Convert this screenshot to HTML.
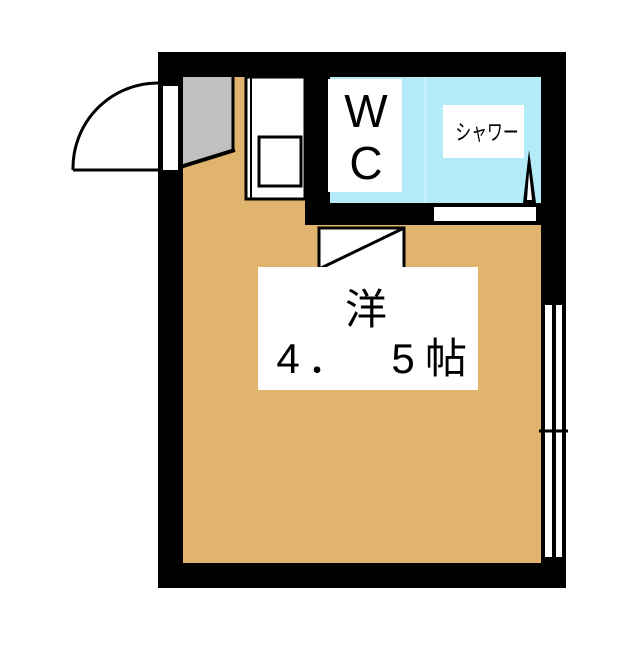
<!DOCTYPE html>
<html><head><meta charset="utf-8"><style>
body{margin:0;width:640px;height:640px;background:#fff;overflow:hidden}
</style></head><body>
<svg width="640" height="640" viewBox="0 0 640 640" xmlns="http://www.w3.org/2000/svg">
<rect x="158" y="52" width="408" height="536" fill="#000"/>
<rect x="183" y="77" width="358" height="486" fill="#e0b46e"/>
<rect x="305" y="77" width="236" height="148" fill="#000"/>
<rect x="330" y="77" width="211" height="126" fill="#b3ecf8"/>
<line x1="425" y1="77" x2="425" y2="203" stroke="#c8f2fb" stroke-width="2"/>
<rect x="434" y="207" width="102" height="14" fill="#fff"/>
<rect x="328" y="79" width="74" height="113" fill="#fff"/>
<text x="366" y="127" font-family="Liberation Sans, sans-serif" font-size="46" text-anchor="middle">W</text>
<text x="366" y="179" font-family="Liberation Sans, sans-serif" font-size="46" text-anchor="middle">C</text>
<rect x="443" y="105" width="81" height="53" fill="#fff"/>
<text x="0" y="0" font-family="Liberation Sans, 'Noto Sans CJK JP', sans-serif" font-size="22" text-anchor="middle" transform="translate(487,140) scale(0.72,1)">シャワー</text>
<polygon points="523,203 529,150 536,203" fill="#000"/>
<polygon points="527,200 529,172 532,200" fill="#fff"/>
<rect x="246" y="77" width="59" height="122" fill="#fff" stroke="#000" stroke-width="3"/>
<line x1="251" y1="77" x2="251" y2="199" stroke="#000" stroke-width="2"/>
<rect x="259" y="137" width="42" height="49" fill="#fff" stroke="#000" stroke-width="3"/>
<polygon points="183,77 233,77 233,150 183,168" fill="#c0c0c0"/>
<line x1="233" y1="77" x2="233" y2="151" stroke="#000" stroke-width="3"/>
<line x1="164" y1="172" x2="235" y2="150" stroke="#000" stroke-width="4"/>
<rect x="163" y="86" width="15" height="84" fill="#fff"/>
<path d="M73,170 A85,85 0 0 1 158,83 M73,170 L160,170" fill="none" stroke="#000" stroke-width="3"/>
<rect x="319" y="228" width="85" height="41" fill="#fff" stroke="#000" stroke-width="3"/>
<line x1="319" y1="269" x2="404" y2="228" stroke="#000" stroke-width="3"/>
<rect x="258" y="267" width="220" height="123" fill="#fff"/>
<g font-family="Liberation Sans, 'Noto Sans CJK JP', sans-serif" font-size="42" text-anchor="middle">
<text x="366" y="324">洋</text>
<text x="288" y="373">4</text>
<text x="328" y="373">．</text>
<text x="403" y="373">5</text>
<text x="446" y="373">帖</text>
</g>
<rect x="545" y="305" width="7" height="252" fill="#fff"/>
<rect x="556" y="305" width="6" height="252" fill="#fff"/>
<line x1="539" y1="431" x2="568" y2="431" stroke="#000" stroke-width="3"/>
</svg>
</body></html>
